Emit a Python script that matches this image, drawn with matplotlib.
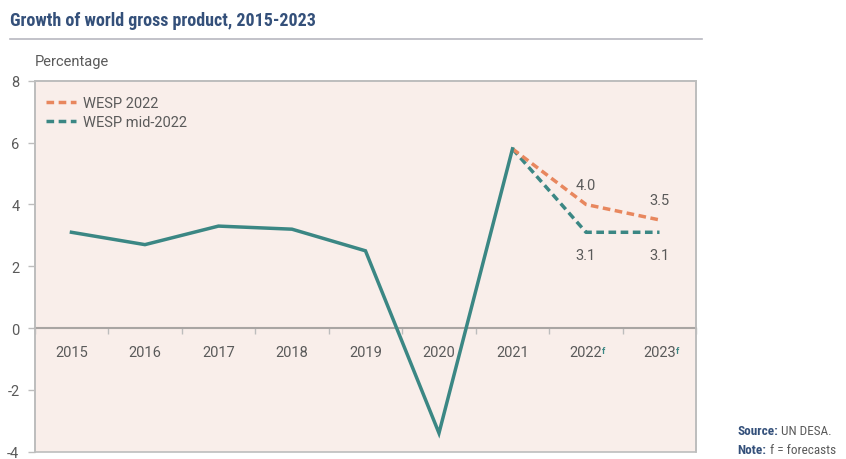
import matplotlib
matplotlib.use("Agg")
import matplotlib.pyplot as plt
from matplotlib.patches import Rectangle
from matplotlib.lines import Line2D

years = ["2015", "2016", "2017", "2018", "2019", "2020", "2021", "2022", "2023"]
forecast_years = ["2022", "2023"]
actual = [3.1, 2.7, 3.3, 3.2, 2.5, -3.4, 5.8]
wesp_2022 = [5.8, 4.0, 3.5]
wesp_mid_2022 = [5.8, 3.1, 3.1]
yticks = [-4, -2, 0, 2, 4, 6, 8]

TEAL = "#3b8784"
ORANGE = "#e8875e"
GREY = "#5a5a5a"
NAVY = "#34507a"
BG = "#f9eeea"
FRAME = "#bdbdbd"
NARROW = ["Roboto Condensed", "Open Sans Condensed", "Roboto", "DejaVu Sans"]

plt.rcParams["font.family"] = ["Roboto", "DejaVu Sans"]

fig = plt.figure(figsize=(8.46, 4.6), dpi=100)
ax = fig.add_axes([0.041, 0.016, 0.782, 0.806])
ax.set_facecolor(BG)

x_all = list(range(len(years)))
x_act = x_all[:len(actual)]
x_fc = x_all[len(actual) - 1:]

dash = (0, (2.2, 1.3))
ax.plot(x_fc, wesp_mid_2022, color=TEAL, lw=2.5, ls=dash,
        dash_capstyle="butt", zorder=3)
ax.plot(x_fc, wesp_2022, color=ORANGE, lw=2.5, ls=dash,
        dash_capstyle="butt", zorder=4)
ax.plot(x_act, actual, color=TEAL, lw=2.5, solid_joinstyle="miter", zorder=5)

# value labels for the forecasts
for xi, v in zip(x_fc[1:], wesp_2022[1:]):
    ax.annotate(f"{v:.1f}", (xi, v), xytext=(0, 9), textcoords="offset points",
                ha="center", va="bottom", color=GREY, fontsize=10.5)
for xi, v in zip(x_fc[1:], wesp_mid_2022[1:]):
    ax.annotate(f"{v:.1f}", (xi, v), xytext=(0, -11), textcoords="offset points",
                ha="center", va="top", color=GREY, fontsize=10.5)

ax.set_xlim(-0.5, len(years) - 0.5)
ax.set_ylim(-4, 8)
ax.set_yticks(yticks)
ax.set_yticklabels([str(t) for t in yticks])

# tick marks between categories, labels centred on categories
ax.set_xticks([i - 0.5 for i in range(len(years) + 1)])
ax.set_xticklabels([])
ax.set_xticks(x_all, minor=True)
ax.set_xticklabels(years, minor=True)
ax.tick_params(axis="x", which="major", length=4, width=1, color=FRAME, direction="out")
ax.tick_params(axis="x", which="minor", length=0, pad=12, labelsize=10.5, labelcolor=GREY)
ax.tick_params(axis="y", length=5, width=1, color=FRAME, pad=6, labelsize=10.5,
               labelcolor=GREY)

for s in ["top", "right", "left"]:
    ax.spines[s].set_color(FRAME)
    ax.spines[s].set_linewidth(1.2)
ax.spines["bottom"].set_position(("data", 0))
ax.spines["bottom"].set_color("#a9a5a3")
ax.spines["bottom"].set_linewidth(1.5)
ax.add_patch(Rectangle((0, 0), 1, 1, transform=ax.transAxes, fill=False,
                       edgecolor=FRAME, lw=1.2, zorder=6, clip_on=False))

# superscript forecast markers on the year labels
for yr in forecast_years:
    xi = years.index(yr)
    ax.annotate("f", (xi, 0), xytext=(11.5, -13), textcoords="offset points",
                ha="left", va="top", color=TEAL, fontsize=6.5, fontweight="bold")

handles = [Line2D([], [], color=ORANGE, lw=2.5, ls=dash),
           Line2D([], [], color=TEAL, lw=2.5, ls=dash)]
leg = ax.legend(handles, ["WESP 2022", "WESP mid-2022"], loc="upper left",
                frameon=False, fontsize=10.5, handlelength=2.0, handletextpad=0.5,
                labelspacing=0.3, borderaxespad=0.4, bbox_to_anchor=(0.0, 0.99))
for t in leg.get_texts():
    t.set_color(GREY)

fig.text(0.041, 0.865, "Percentage", color=GREY, fontsize=10.5,
         ha="left", va="center")

fig.text(0.012, 0.955, "Growth of world gross product, 2015-2023", color=NAVY,
         fontsize=13, fontweight="bold", fontstretch="condensed", family=NARROW,
         ha="left", va="center")
fig.add_artist(Line2D([0.012, 0.83], [0.913, 0.913], color="#b8b8c0", lw=1.2,
                      transform=fig.transFigure))

src = fig.text(0.872, 0.062, "Source:", color=NAVY, fontsize=9.5, fontweight="bold",
               fontstretch="condensed", family=NARROW, ha="left", va="center")
plt.annotate(" UN DESA.", xy=(1, 0.5), xycoords=src, color=GREY, fontsize=9.5,
             fontstretch="condensed", family=NARROW, ha="left", va="center",
             annotation_clip=False)
note = fig.text(0.872, 0.02, "Note:", color=NAVY, fontsize=9.5, fontweight="bold",
                fontstretch="condensed", family=NARROW, ha="left", va="center")
plt.annotate(" f = forecasts", xy=(1, 0.5), xycoords=note, color=GREY, fontsize=9.5,
             fontstretch="condensed", family=NARROW, ha="left", va="center",
             annotation_clip=False)

fig.savefig("out.png", dpi=100, facecolor="white")
